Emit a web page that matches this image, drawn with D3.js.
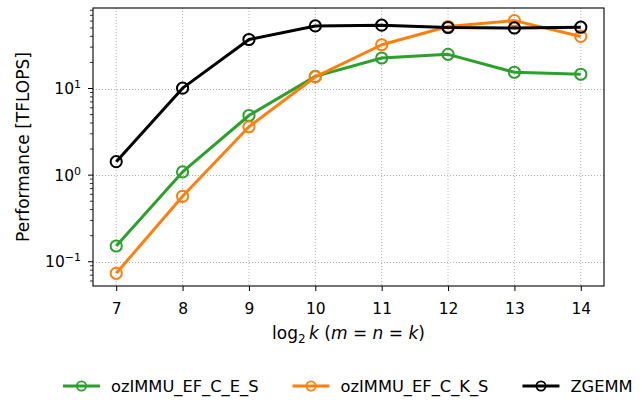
<!DOCTYPE html>
<html>
<head>
<meta charset="utf-8">
<script src="https://cdn.jsdelivr.net/npm/d3@7"></script>
<style>
  body { margin: 0; background: #fff; }
  svg text { font-family: "DejaVu Sans", sans-serif; fill: #000; }
</style>
</head>
<body>
<svg id="canvas"></svg>
<script>
// Chart data
const logK = [7, 8, 9, 10, 11, 12, 13, 14];
const efCES = [0.152, 1.09, 4.88, 13.8, 22.5, 24.8, 15.4, 14.6];
const efCKS = [0.0735, 0.57, 3.62, 13.6, 32, 52, 60.8, 39.9];
const zgemm = [1.43, 10.1, 36.8, 52.8, 53.9, 50.6, 50, 51];
const seriesNames = ["ozIMMU_EF_C_E_S", "ozIMMU_EF_C_K_S", "ZGEMM"];
const seriesColors = ["#2ca02c", "#ff7f0e", "#000000"];
const yDecades = [-1, 0, 1];

const width = 644;
const height = 400;
const plot = { left: 93, right: 604, top: 8, bottom: 286 };
const tickFont = "15.5px";
const labelFont = "17px";

const svg = d3.select("#canvas")
    .attr("width", width)
    .attr("height", height);

const x = d3.scaleLinear().domain([6.65, 14.35]).range([plot.left, plot.right]);
const y = d3.scaleLog().domain([0.0525, 85]).range([plot.bottom, plot.top]);

// Grid lines (dotted, major ticks only)
const grid = svg.append("g");
grid.selectAll("line.gx")
    .data(logK)
    .enter().append("line")
    .attr("x1", d => x(d)).attr("x2", d => x(d))
    .attr("y1", plot.top).attr("y2", plot.bottom)
    .attr("stroke", "#b0b0b0").attr("stroke-width", 1)
    .attr("stroke-dasharray", "1,2");
grid.selectAll("line.gy")
    .data(yDecades)
    .enter().append("line")
    .attr("x1", plot.left).attr("x2", plot.right)
    .attr("y1", d => Math.round(y(Math.pow(10, d))) + 0.5)
    .attr("y2", d => Math.round(y(Math.pow(10, d))) + 0.5)
    .attr("stroke", "#b0b0b0").attr("stroke-width", 1)
    .attr("stroke-dasharray", "1,2");

// X axis
const xAxis = svg.append("g")
    .attr("transform", `translate(0,${plot.bottom})`)
    .call(d3.axisBottom(x).tickValues(logK).tickSize(5).tickPadding(6).tickFormat(d3.format("d")));
xAxis.select(".domain").remove();
xAxis.selectAll("line").attr("stroke", "#000").attr("stroke-width", 1);
xAxis.selectAll("text")
    .attr("y", 28).attr("dy", null)
    .style("font-size", tickFont).style("font-family", "DejaVu Sans");

// Y axis: minor ticks
const minorVals = [];
for (let e = -2; e <= 1; e++) {
    for (let m = 2; m <= 9; m++) {
        const v = m * Math.pow(10, e);
        if (v >= y.domain()[0] && v <= y.domain()[1]) minorVals.push(v);
    }
}
const yAxis = svg.append("g");
yAxis.selectAll("line.minor")
    .data(minorVals)
    .enter().append("line")
    .attr("x1", plot.left - 3).attr("x2", plot.left)
    .attr("y1", d => y(d)).attr("y2", d => y(d))
    .attr("stroke", "#000").attr("stroke-width", 0.8);
yAxis.selectAll("line.major")
    .data(yDecades)
    .enter().append("line")
    .attr("x1", plot.left - 5).attr("x2", plot.left)
    .attr("y1", d => y(Math.pow(10, d))).attr("y2", d => y(Math.pow(10, d)))
    .attr("stroke", "#000").attr("stroke-width", 1);
const yLabels = yAxis.selectAll("text.ylab")
    .data(yDecades)
    .enter().append("text")
    .attr("x", plot.left - 12)
    .attr("y", d => y(Math.pow(10, d)) + 5.6)
    .attr("text-anchor", "end")
    .style("font-size", tickFont);
yLabels.append("tspan").text("10");
yLabels.append("tspan")
    .attr("dy", -6)
    .style("font-size", "11px")
    .text(d => d < 0 ? "\u2212" + Math.abs(d) : d);

// Frame
svg.append("rect")
    .attr("x", plot.left).attr("y", plot.top)
    .attr("width", plot.right - plot.left).attr("height", plot.bottom - plot.top)
    .attr("fill", "none").attr("stroke", "#000").attr("stroke-width", 1.1);

// Axis titles
svg.append("text")
    .attr("transform", `translate(29,${(plot.top + plot.bottom) / 2}) rotate(-90)`)
    .attr("text-anchor", "middle")
    .style("font-size", labelFont)
    .text("Performance [TFLOPS]");

const xTitle = svg.append("text")
    .attr("x", (plot.left + plot.right) / 2)
    .attr("y", 339)
    .attr("text-anchor", "middle")
    .style("font-size", labelFont);
xTitle.append("tspan").text("log");
xTitle.append("tspan").attr("dy", 4).style("font-size", "12px").text("2");
xTitle.append("tspan").attr("dy", -4).text("\u2009");
xTitle.append("tspan").style("font-style", "italic").text("k");
xTitle.append("tspan").text(" (");
xTitle.append("tspan").style("font-style", "italic").text("m");
xTitle.append("tspan").text(" = ");
xTitle.append("tspan").style("font-style", "italic").text("n");
xTitle.append("tspan").text(" = ");
xTitle.append("tspan").style("font-style", "italic").text("k");
xTitle.append("tspan").text(")");

// Series
const allSeries = [efCES, efCKS, zgemm];
const line = d3.line()
    .x((d, i) => x(logK[i]))
    .y(d => y(d));

allSeries.forEach((vals, si) => {
    const g = svg.append("g");
    g.append("path")
        .datum(vals)
        .attr("d", line)
        .attr("fill", "none")
        .attr("stroke", seriesColors[si])
        .attr("stroke-width", 3)
        .attr("stroke-linejoin", "round");
    g.selectAll("circle")
        .data(vals)
        .enter().append("circle")
        .attr("cx", (d, i) => x(logK[i]))
        .attr("cy", d => y(d))
        .attr("r", 5.6)
        .attr("fill", "none")
        .attr("stroke", seriesColors[si])
        .attr("stroke-width", 2);
});

// Legend below the chart
const legend = svg.append("g");
let lx = 63;
const ly = 386;
seriesNames.forEach((name, i) => {
    legend.append("line")
        .attr("x1", lx).attr("x2", lx + 37)
        .attr("y1", ly).attr("y2", ly)
        .attr("stroke", seriesColors[i]).attr("stroke-width", 3);
    legend.append("circle")
        .attr("cx", lx + 18.5).attr("cy", ly).attr("r", 4.6)
        .attr("fill", "none").attr("stroke", seriesColors[i]).attr("stroke-width", 1.8);
    const t = legend.append("text")
        .attr("x", lx + 48).attr("y", ly + 6)
        .style("font-size", "16.3px")
        .text(name);
    lx = lx + 48 + t.node().getComputedTextLength() + 34;
});
</script>
</body>
</html>
